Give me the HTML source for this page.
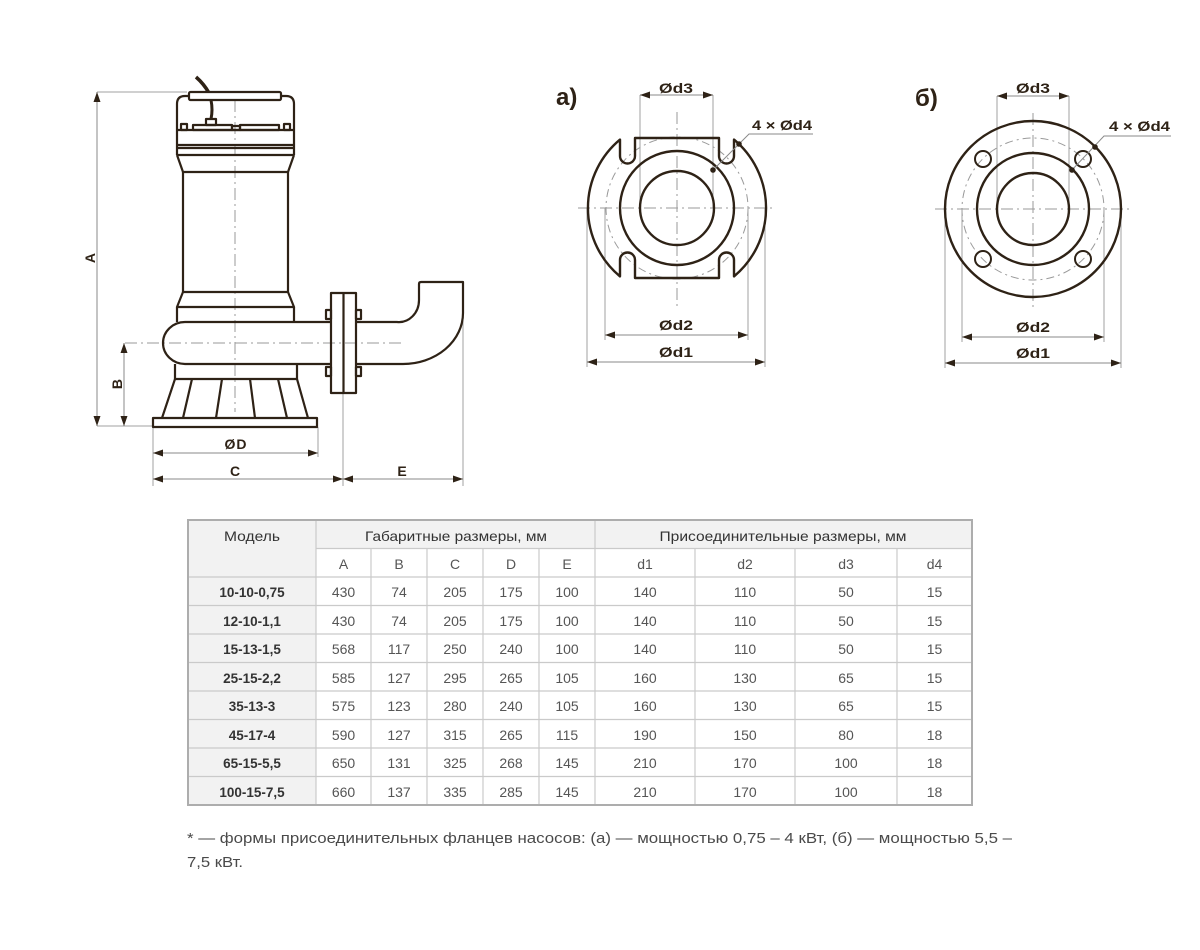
<!DOCTYPE html>
<html><head><meta charset="utf-8"><style>
html,body{margin:0;padding:0;background:#fff;}
svg{display:block;}
</style></head><body>
<svg width="1200" height="950" viewBox="0 0 1200 950" xmlns="http://www.w3.org/2000/svg">
<defs>
<marker id="ar" viewBox="0 0 10 7" refX="10" refY="3.5" markerWidth="10" markerHeight="7" markerUnits="userSpaceOnUse" orient="auto-start-reverse">
<path d="M0,0 L10,3.5 L0,7 z" fill="#2e2216"/>
</marker>
</defs>
<rect width="1200" height="950" fill="#fff"/>

<!-- ============ PUMP ============ -->
<!-- center lines -->
<g stroke="#9a9a9a" stroke-width="1" stroke-dasharray="12 4 2 4" fill="none">
<line x1="235" y1="100" x2="235" y2="412"/>
<line x1="125" y1="343" x2="403" y2="343"/>
</g>
<!-- dimension lines -->
<g stroke="#a0a0a0" stroke-width="1" fill="none">
<line x1="97" y1="92" x2="187" y2="92"/>
<line x1="97" y1="426" x2="153" y2="426"/>
<line x1="153" y1="427" x2="153" y2="486"/>
<line x1="318" y1="427" x2="318" y2="457"/>
<line x1="343" y1="393" x2="343" y2="486"/>
<line x1="463" y1="313" x2="463" y2="486"/>
</g>
<g stroke="#8a8a8a" stroke-width="1" fill="none" marker-start="url(#ar)" marker-end="url(#ar)">
<line x1="97" y1="92" x2="97" y2="426"/>
<line x1="124" y1="343" x2="124" y2="426"/>
<line x1="153" y1="453" x2="318" y2="453"/>
<line x1="153" y1="479" x2="343" y2="479"/>
<line x1="343" y1="479" x2="463" y2="479"/>
</g>
<g font-family="Liberation Sans, sans-serif" font-weight="bold" font-size="14" fill="#2e2216" text-anchor="middle">
<text x="95" y="258" transform="rotate(-90 95 258)">A</text>
<text x="122" y="384" transform="rotate(-90 122 384)">B</text>
<text x="236" y="449" letter-spacing="1">ØD</text>
<text x="235" y="476">C</text>
<text x="402" y="476">E</text>
</g>

<g stroke="#2e2216" stroke-width="2.2" fill="none" stroke-linejoin="round">
<!-- cable -->
<path d="M196,77 Q204,84 209,93" stroke-width="3.5"/>
<!-- head -->
<path d="M177,155 V104 Q177,96 185,96 H286 Q294,96 294,104 V155"/>
<rect x="189" y="92" width="92" height="8" rx="1.5" fill="#fff"/>
<path d="M211,100 Q213,110 211,119" stroke-width="3"/>
<rect x="206" y="119" width="10" height="6"/>
<line x1="177" y1="130" x2="294" y2="130"/>
<rect x="181" y="124" width="6" height="6"/>
<rect x="284" y="124" width="6" height="6"/>
<rect x="193" y="125" width="39" height="5"/>
<rect x="240" y="125" width="39" height="5"/>
<rect x="232" y="126" width="8" height="4"/>
<line x1="177" y1="145" x2="294" y2="145"/>
<line x1="177" y1="148" x2="294" y2="148"/>
<line x1="177" y1="155" x2="294" y2="155"/>
<path d="M177,155 L183,172 H288 L294,155"/>
<line x1="183" y1="172" x2="183" y2="292"/>
<line x1="288" y1="172" x2="288" y2="292"/>
<path d="M183,292 H288 L294,307 H177 Z"/>
<line x1="177" y1="307" x2="177" y2="322"/>
<line x1="294" y1="307" x2="294" y2="322"/>
<!-- volute -->
<path d="M331,322 H185 A22,21 0 0 0 185,364 H331"/>
<path d="M175,364 V379 H297 V364"/>
<!-- fins -->
<line x1="175" y1="379" x2="162" y2="418"/>
<line x1="297" y1="379" x2="308" y2="418"/>
<line x1="192" y1="379" x2="183" y2="418"/>
<line x1="222" y1="379" x2="216" y2="418"/>
<line x1="250" y1="379" x2="255" y2="418"/>
<line x1="278" y1="379" x2="287" y2="418"/>
<rect x="153" y="418" width="164" height="9"/>
<!-- flange -->
<rect x="331" y="293" width="25" height="100"/>
<line x1="343.5" y1="293" x2="343.5" y2="393"/>
<rect x="326" y="310" width="5" height="9"/>
<rect x="356" y="310" width="5" height="9"/>
<rect x="326" y="367" width="5" height="9"/>
<rect x="356" y="367" width="5" height="9"/>
<!-- outlet elbow -->
<path d="M356,322 H397 A20,22 0 0 0 419,300 V284 Q419,282 421,282 H463 V313 A60,51 0 0 1 403,364 H356"/>
</g>

<!-- ============ FLANGE a) ============ -->
<text x="556" y="105" font-family="Liberation Sans, sans-serif" font-weight="bold" font-size="24" fill="#2e2216">а)</text>
<g stroke="#9a9a9a" stroke-width="1" stroke-dasharray="12 4 2 4" fill="none">
<line x1="578" y1="208" x2="773" y2="208"/>
<line x1="677" y1="112" x2="677" y2="308"/>
<circle cx="677" cy="208" r="71" stroke-dasharray="8 4 2 4"/>
</g>
<g stroke="#a0a0a0" stroke-width="1" fill="none">
<line x1="640" y1="95" x2="640" y2="208"/>
<line x1="713" y1="95" x2="713" y2="208"/>
<line x1="605" y1="208" x2="605" y2="340"/>
<line x1="748" y1="208" x2="748" y2="340"/>
<line x1="587" y1="208" x2="587" y2="367"/>
<line x1="765" y1="208" x2="765" y2="367"/>
</g>
<g stroke="#8a8a8a" stroke-width="1" fill="none" marker-start="url(#ar)" marker-end="url(#ar)">
<line x1="640" y1="95" x2="713" y2="95"/>
<line x1="605" y1="335" x2="748" y2="335"/>
<line x1="587" y1="362" x2="765" y2="362"/>
</g>
<g stroke="#2e2216" stroke-width="2.4" fill="none" stroke-linejoin="round">
<circle cx="677" cy="208" r="37"/>
<circle cx="677" cy="208" r="57"/>
<path d="M635,138 H719 V156 A7.5,7.5 0 0 0 734,156 V139.6 A89,89 0 0 1 734,276.4 V260 A7.5,7.5 0 0 0 719,260 V278 H635 V260 A7.5,7.5 0 0 0 620,260 V276.4 A89,89 0 0 1 620,139.6 V156 A7.5,7.5 0 0 0 635,156 Z"/>
</g>
<g stroke="#8a8a8a" stroke-width="1" fill="none">
<polyline points="713,170 749,134 813,134"/>
</g>
<circle cx="739" cy="144" r="2.8" fill="#2e2216"/>
<circle cx="713" cy="170" r="2.8" fill="#2e2216"/>
<g font-family="Liberation Sans, sans-serif" font-weight="bold" font-size="14" fill="#2e2216">
<text x="676" y="93" text-anchor="middle" textLength="34" lengthAdjust="spacingAndGlyphs">Ød3</text>
<text x="676" y="330" text-anchor="middle" textLength="34" lengthAdjust="spacingAndGlyphs">Ød2</text>
<text x="676" y="357" text-anchor="middle" textLength="34" lengthAdjust="spacingAndGlyphs">Ød1</text>
<text x="752" y="130" textLength="60" lengthAdjust="spacingAndGlyphs">4 × Ød4</text>
</g>

<!-- ============ FLANGE б) ============ -->
<text x="915" y="106" font-family="Liberation Sans, sans-serif" font-weight="bold" font-size="24" fill="#2e2216">б)</text>
<g stroke="#9a9a9a" stroke-width="1" stroke-dasharray="12 4 2 4" fill="none">
<line x1="935" y1="209" x2="1133" y2="209"/>
<line x1="1033" y1="113" x2="1033" y2="308"/>
<circle cx="1033" cy="209" r="71" stroke-dasharray="8 4 2 4"/>
</g>
<g stroke="#a0a0a0" stroke-width="1" fill="none">
<line x1="997" y1="96" x2="997" y2="209"/>
<line x1="1069" y1="96" x2="1069" y2="209"/>
<line x1="962" y1="209" x2="962" y2="342"/>
<line x1="1104" y1="209" x2="1104" y2="342"/>
<line x1="945" y1="209" x2="945" y2="368"/>
<line x1="1121" y1="209" x2="1121" y2="368"/>
</g>
<g stroke="#8a8a8a" stroke-width="1" fill="none" marker-start="url(#ar)" marker-end="url(#ar)">
<line x1="997" y1="96" x2="1069" y2="96"/>
<line x1="962" y1="337" x2="1104" y2="337"/>
<line x1="945" y1="363" x2="1121" y2="363"/>
</g>
<g stroke="#2e2216" stroke-width="2.4" fill="none">
<circle cx="1033" cy="209" r="88"/>
<circle cx="1033" cy="209" r="56"/>
<circle cx="1033" cy="209" r="36"/>
<circle cx="983" cy="159" r="8" stroke-width="2"/>
<circle cx="1083" cy="159" r="8" stroke-width="2"/>
<circle cx="983" cy="259" r="8" stroke-width="2"/>
<circle cx="1083" cy="259" r="8" stroke-width="2"/>
</g>
<g stroke="#8a8a8a" stroke-width="1" fill="none">
<polyline points="1071,171 1104,136 1171,136"/>
</g>
<circle cx="1095" cy="147" r="2.8" fill="#2e2216"/>
<circle cx="1072" cy="170" r="2.8" fill="#2e2216"/>
<g font-family="Liberation Sans, sans-serif" font-weight="bold" font-size="14" fill="#2e2216">
<text x="1033" y="93" text-anchor="middle" textLength="34" lengthAdjust="spacingAndGlyphs">Ød3</text>
<text x="1033" y="332" text-anchor="middle" textLength="34" lengthAdjust="spacingAndGlyphs">Ød2</text>
<text x="1033" y="358" text-anchor="middle" textLength="34" lengthAdjust="spacingAndGlyphs">Ød1</text>
<text x="1109" y="131" textLength="61" lengthAdjust="spacingAndGlyphs">4 × Ød4</text>
</g>

<!-- ============ TABLE ============ -->
<rect x="188" y="520" width="784" height="28.5" fill="#f2f2f2"/>
<rect x="188" y="520" width="128" height="285" fill="#f2f2f2"/>
<g stroke="#cacaca" stroke-width="1.2">
<line x1="316" y1="548.5" x2="972" y2="548.5"/>
<line x1="188" y1="577" x2="972" y2="577"/>
<line x1="188" y1="605.5" x2="972" y2="605.5"/>
<line x1="188" y1="634" x2="972" y2="634"/>
<line x1="188" y1="662.5" x2="972" y2="662.5"/>
<line x1="188" y1="691" x2="972" y2="691"/>
<line x1="188" y1="719.5" x2="972" y2="719.5"/>
<line x1="188" y1="748" x2="972" y2="748"/>
<line x1="188" y1="776.5" x2="972" y2="776.5"/>
<line x1="316" y1="520" x2="316" y2="805"/>
<line x1="371" y1="548.5" x2="371" y2="805"/>
<line x1="427" y1="548.5" x2="427" y2="805"/>
<line x1="483" y1="548.5" x2="483" y2="805"/>
<line x1="539" y1="548.5" x2="539" y2="805"/>
<line x1="595" y1="520" x2="595" y2="805"/>
<line x1="695" y1="548.5" x2="695" y2="805"/>
<line x1="795" y1="548.5" x2="795" y2="805"/>
<line x1="897" y1="548.5" x2="897" y2="805"/>
</g>
<rect x="188" y="520" width="784" height="285" fill="none" stroke="#adadad" stroke-width="2"/>

<g font-family="Liberation Sans, sans-serif" font-size="14" fill="#333" text-anchor="middle">
<text x="252" y="541" textLength="56" lengthAdjust="spacingAndGlyphs">Модель</text>
<text x="456" y="541" textLength="182" lengthAdjust="spacingAndGlyphs">Габаритные размеры, мм</text>
<text x="783" y="541" textLength="247" lengthAdjust="spacingAndGlyphs">Присоединительные размеры, мм</text>
</g>
<g font-family="Liberation Sans, sans-serif" font-size="14" fill="#555" text-anchor="middle">
<text x="343.5" y="569">A</text><text x="399" y="569">B</text><text x="455" y="569">C</text><text x="511" y="569">D</text><text x="567" y="569">E</text>
<text x="645" y="569">d1</text><text x="745" y="569">d2</text><text x="846" y="569">d3</text><text x="934.5" y="569">d4</text>
</g>
<g font-family="Liberation Sans, sans-serif" font-size="13.5" font-weight="bold" fill="#333" text-anchor="middle">
<text x="252" y="597">10-10-0,75</text>
<text x="252" y="626">12-10-1,1</text>
<text x="252" y="654">15-13-1,5</text>
<text x="252" y="683">25-15-2,2</text>
<text x="252" y="711">35-13-3</text>
<text x="252" y="740">45-17-4</text>
<text x="252" y="768">65-15-5,5</text>
<text x="252" y="797">100-15-7,5</text>
</g>
<g font-family="Liberation Sans, sans-serif" font-size="14" fill="#555" text-anchor="middle">
<text x="343.5" y="597">430</text><text x="399" y="597">74</text><text x="455" y="597">205</text><text x="511" y="597">175</text><text x="567" y="597">100</text><text x="645" y="597">140</text><text x="745" y="597">110</text><text x="846" y="597">50</text><text x="934.5" y="597">15</text>
<text x="343.5" y="626">430</text><text x="399" y="626">74</text><text x="455" y="626">205</text><text x="511" y="626">175</text><text x="567" y="626">100</text><text x="645" y="626">140</text><text x="745" y="626">110</text><text x="846" y="626">50</text><text x="934.5" y="626">15</text>
<text x="343.5" y="654">568</text><text x="399" y="654">117</text><text x="455" y="654">250</text><text x="511" y="654">240</text><text x="567" y="654">100</text><text x="645" y="654">140</text><text x="745" y="654">110</text><text x="846" y="654">50</text><text x="934.5" y="654">15</text>
<text x="343.5" y="683">585</text><text x="399" y="683">127</text><text x="455" y="683">295</text><text x="511" y="683">265</text><text x="567" y="683">105</text><text x="645" y="683">160</text><text x="745" y="683">130</text><text x="846" y="683">65</text><text x="934.5" y="683">15</text>
<text x="343.5" y="711">575</text><text x="399" y="711">123</text><text x="455" y="711">280</text><text x="511" y="711">240</text><text x="567" y="711">105</text><text x="645" y="711">160</text><text x="745" y="711">130</text><text x="846" y="711">65</text><text x="934.5" y="711">15</text>
<text x="343.5" y="740">590</text><text x="399" y="740">127</text><text x="455" y="740">315</text><text x="511" y="740">265</text><text x="567" y="740">115</text><text x="645" y="740">190</text><text x="745" y="740">150</text><text x="846" y="740">80</text><text x="934.5" y="740">18</text>
<text x="343.5" y="768">650</text><text x="399" y="768">131</text><text x="455" y="768">325</text><text x="511" y="768">268</text><text x="567" y="768">145</text><text x="645" y="768">210</text><text x="745" y="768">170</text><text x="846" y="768">100</text><text x="934.5" y="768">18</text>
<text x="343.5" y="797">660</text><text x="399" y="797">137</text><text x="455" y="797">335</text><text x="511" y="797">285</text><text x="567" y="797">145</text><text x="645" y="797">210</text><text x="745" y="797">170</text><text x="846" y="797">100</text><text x="934.5" y="797">18</text>
</g>

<!-- ============ FOOTNOTE ============ -->
<g font-family="Liberation Sans, sans-serif" font-size="15" fill="#4a4a4a">
<text x="187" y="843" textLength="825" lengthAdjust="spacingAndGlyphs">* — формы присоединительных фланцев насосов: (а) — мощностью 0,75 – 4 кВт, (б) — мощностью 5,5 –</text>
<text x="187" y="867" textLength="56" lengthAdjust="spacingAndGlyphs">7,5 кВт.</text>
</g>
</svg>
</body></html>
